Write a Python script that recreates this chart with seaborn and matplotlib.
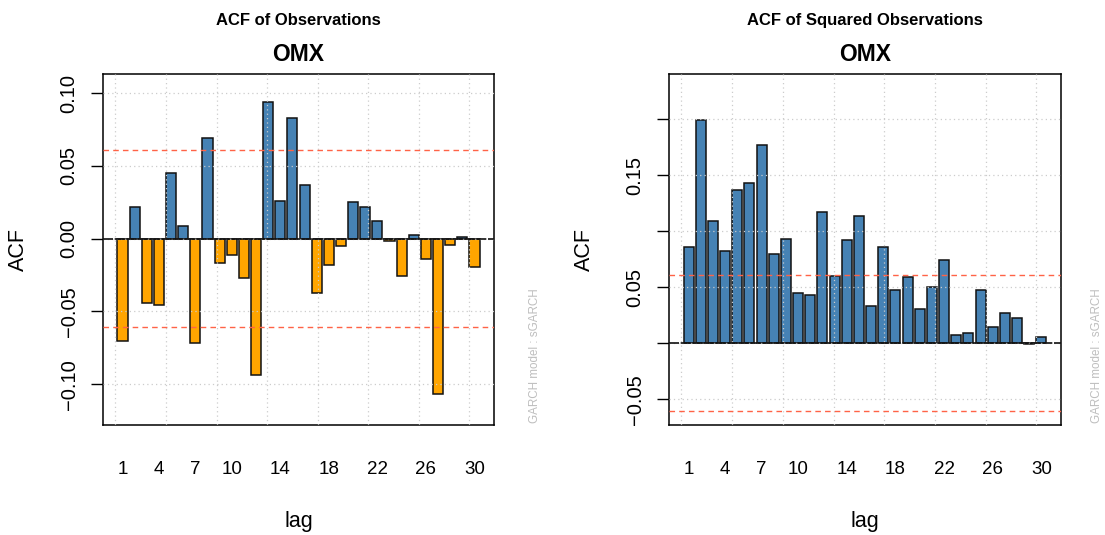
import numpy as np
import pandas as pd
import matplotlib
matplotlib.use("Agg")
import matplotlib.pyplot as plt
import seaborn as sns

# ---- data -------------------------------------------------------------
lags = list(range(1, 31))

acf_obs = [-0.0702, 0.0219, -0.0445, -0.0456, 0.0454, 0.0084, -0.0720, 0.0694,
           -0.0170, -0.0110, -0.0273, -0.0938, 0.0938, 0.0260, 0.0831, 0.0370,
           -0.0372, -0.0179, -0.0048, 0.0251, 0.0217, 0.0123, -0.0018, -0.0257,
           0.0023, -0.0138, -0.1067, -0.0041, 0.0014, -0.0195]

acf_sq = [0.0857, 0.1994, 0.1089, 0.0828, 0.1368, 0.1430, 0.1774, 0.0801,
          0.0929, 0.0446, 0.0432, 0.1172, 0.0604, 0.0926, 0.1136, 0.0336,
          0.0861, 0.0476, 0.0589, 0.0310, 0.0503, 0.0742, 0.0071, 0.0089,
          0.0473, 0.0143, 0.0274, 0.0229, -0.0010, 0.0060]

conf_bound = 0.0607
shown_lags = [1, 4, 7, 10, 14, 18, 22, 26, 30]

panel_titles = ["ACF of Observations", "ACF of Squared Observations"]
series_name = "OMX"
model_note = "GARCH model : sGARCH"

left_yticks = [-0.10, -0.05, 0.00, 0.05, 0.10]
left_yticklabels = ["\u22120.10", "\u22120.05", "0.00", "0.05", "0.10"]
right_yticks = [-0.05, 0.00, 0.05, 0.10, 0.15, 0.20]
right_yticklabels = ["\u22120.05", "", "0.05", "", "0.15", ""]

# ---- style ------------------------------------------------------------
sns.set_theme(style="white")
plt.rcParams["font.family"] = ["Liberation Sans", "DejaVu Sans"]
plt.rcParams["axes.unicode_minus"] = True
plt.rcParams["text.color"] = "black"
plt.rcParams["axes.labelcolor"] = "black"
plt.rcParams["xtick.color"] = "black"
plt.rcParams["ytick.color"] = "black"

BLUE = "#4682B4"
ORANGE = "#FFA500"

W, H = 1105, 535
fig = plt.figure(figsize=(W / 100, H / 100), dpi=100)

# R-style barplot geometry: bar width 1, space 0.2 -> slot of 1.2 units
SLOT = 1.2
BAR_W = 1.0 / SLOT


def to_cat(u):
    """Convert barplot units (first bar centre at 0.7) to category index."""
    return (u - 0.7) / SLOT


def draw_panel(rect, values, ylim, yticks, yticklabels, title, note_x):
    ax = fig.add_axes(rect)
    df = pd.DataFrame({"lag": lags, "acf": values})
    df["sign"] = np.where(df["acf"] >= 0, "pos", "neg")
    sns.barplot(data=df, x="lag", y="acf", hue="sign", order=lags,
                palette={"pos": BLUE, "neg": ORANGE}, dodge=False,
                saturation=1, width=BAR_W, edgecolor="#111111", linewidth=1.1,
                legend=False, ax=ax, zorder=2)

    ax.set_xlim(to_cat(-1.232), to_cat(37.432))
    ax.set_ylim(*ylim)

    # dotted grid drawn above the bars
    for g in np.arange(0, 40, 5):
        ax.axvline(to_cat(g), color="#cccccc", lw=0.9, ls=(0, (1, 2.5)), zorder=3)
    for t in yticks:
        ax.axhline(t, color="#cccccc", lw=0.9, ls=(0, (1, 2.5)), zorder=3)

    # confidence bounds and zero line
    for b in (conf_bound, -conf_bound):
        ax.axhline(b, color="#FF6347", lw=1.0, ls=(0, (4, 3)), zorder=4)
    ax.axhline(0, color="#111111", lw=1.2, ls=(0, (6, 1)), zorder=4)

    ax.set_xticks([lg - 1 for lg in shown_lags])
    ax.set_xticklabels([str(lg) for lg in shown_lags])
    ax.tick_params(axis="x", length=0, pad=26, labelsize=13.5)

    ax.set_yticks(yticks)
    ax.set_yticklabels(yticklabels, rotation=90, va="center")
    ax.tick_params(axis="y", left=True, length=8.6, width=1.0, pad=9,
                   labelsize=14.5, direction="out")

    for s in ax.spines.values():
        s.set_visible(True)
        s.set_color("black")
        s.set_linewidth(1.1)

    ax.set_xlabel("lag", fontsize=15.5, labelpad=24)
    ax.set_ylabel("ACF", fontsize=15.5)
    ax.yaxis.set_label_coords(-0.19, 0.5)

    ax.set_title(series_name, fontsize=16.5, fontweight="bold", pad=9.6)
    ax.text(0.5, 1 + 49 / 351, title, transform=ax.transAxes, ha="center",
            va="baseline", fontsize=12, fontweight="bold")
    ax.text(note_x, 0.006, model_note, transform=ax.transAxes, rotation=90,
            ha="center", va="bottom", fontsize=8.4, color="#bebebe",
            clip_on=False)
    return ax


ax_h = (425 - 74) / H
ax_b = (H - 425) / H
draw_panel([103 / W, ax_b, 391 / W, ax_h], acf_obs, (-0.128, 0.1131),
           left_yticks, left_yticklabels, panel_titles[0], 1.105)
draw_panel([669 / W, ax_b, 392 / W, ax_h], acf_sq, (-0.0729, 0.2404),
           right_yticks, right_yticklabels, panel_titles[1], 1.092)

fig.savefig("out.png", dpi=100)
